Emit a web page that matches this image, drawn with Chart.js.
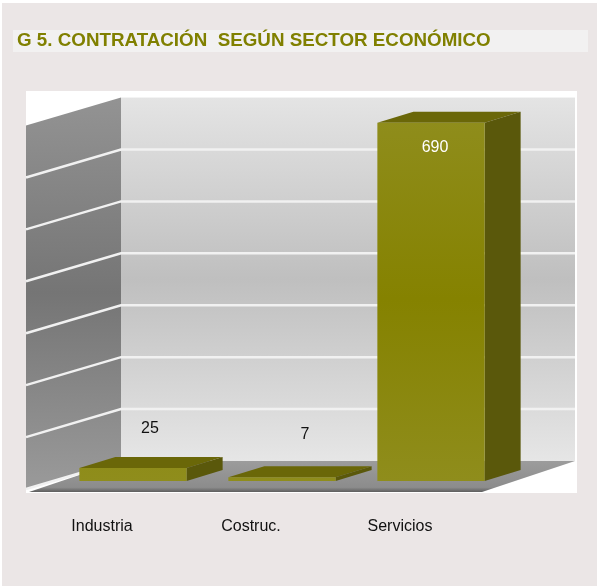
<!DOCTYPE html>
<html>
<head>
<meta charset="utf-8">
<style>html,body{margin:0;padding:0;background:#ebe6e6;overflow:hidden}canvas{display:block;filter:blur(0.45px)}</style>
<script src="https://cdn.jsdelivr.net/npm/chart.js@4"></script>
</head>
<body>
<canvas id="c" width="597" height="586"></canvas>
<script>
const categories = ["Industria", "Costruc.", "Servicios"];
const contratos = [25, 7, 690];
const yTicks = { min: 0, max: 700, step: 100 };
const titleText = "G 5. CONTRATACIÓN  SEGÚN SECTOR ECONÓMICO";
const olive = "#808000";

const DEPTH = { x: 36, y: 11 };            // bar depth
const WALL = { x: 62.5, y: 20, side: 95, drop: 28, right: 575 };
const LABEL_SHIFT = [[17, -39], [23, -43], [4, 25]];

function vGrad(ctx, y0, y1, stops) {
  const g = ctx.createLinearGradient(0, y0, 0, y1);
  stops.forEach(s => g.addColorStop(s[0], s[1]));
  return g;
}
function poly(ctx, pts, fill) {
  ctx.beginPath();
  pts.forEach((p, i) => i ? ctx.lineTo(p[0], p[1]) : ctx.moveTo(p[0], p[1]));
  ctx.closePath();
  ctx.fillStyle = fill;
  ctx.fill();
}

const scene = {
  id: "scene",
  beforeDraw(chart) {
    const ctx = chart.ctx;
    ctx.save();
    ctx.fillStyle = "#ffffff"; ctx.fillRect(0, 0, 597, 586);
    ctx.fillStyle = "#ebe6e6"; ctx.fillRect(2, 3, 595, 583);
    ctx.fillStyle = "#f2f1f1"; ctx.fillRect(13, 30, 575, 22);
    ctx.fillStyle = "#ffffff"; ctx.fillRect(26, 91, 551, 402);
    ctx.restore();
  },
  beforeDatasetsDraw(chart) {
    const ctx = chart.ctx, a = chart.chartArea, y = chart.scales.y;
    const bl = a.left + WALL.x, top = y.getPixelForValue(yTicks.max) - WALL.y, base = y.getPixelForValue(0) - WALL.y;
    ctx.save();
    // back wall
    ctx.fillStyle = vGrad(ctx, top, base, [[0, "#e4e4e4"], [0.5, "#bfbfbf"], [1, "#e6e6e6"]]);
    ctx.fillRect(bl, top, WALL.right - bl, base - top);
    // side wall
    poly(ctx, [[bl, top], [bl, base], [bl - WALL.side, base + WALL.drop], [bl - WALL.side, top + WALL.drop]],
      vGrad(ctx, top, base + WALL.drop, [[0, "#939393"], [0.5, "#757575"], [1, "#9a9a9a"]]));
    // floor
    poly(ctx, [[bl, base], [WALL.right, base], [WALL.right - 93, base + 31], [bl - WALL.side + 3, base + 31]],
      vGrad(ctx, base, base + 31, [[0, "#9c9c9c"], [0.85, "#8c8c8c"], [1, "#5e5e5e"]]));
    // grid lines
    ctx.strokeStyle = "#f1f1f1"; ctx.lineWidth = 2.5;
    y.ticks.forEach(t => {
      const py = y.getPixelForValue(t.value) - WALL.y;
      if (t.value === yTicks.max) return;
      ctx.beginPath();
      if (t.value === 0) {
        ctx.moveTo(bl, py);
      } else {
        ctx.moveTo(WALL.right, py); ctx.lineTo(bl, py);
      }
      ctx.lineTo(bl - WALL.side, py + WALL.drop);
      ctx.stroke();
    });
    // bar top and side faces
    chart.getDatasetMeta(0).data.forEach(b => {
      const l = b.x - b.width / 2, r = b.x + b.width / 2;
      poly(ctx, [[l, b.y], [l + DEPTH.x, b.y - DEPTH.y], [r + DEPTH.x, b.y - DEPTH.y], [r, b.y]], "#6a6708");
      poly(ctx, [[r, b.y], [r + DEPTH.x, b.y - DEPTH.y], [r + DEPTH.x, b.base - DEPTH.y], [r, b.base]], "#5a580b");
    });
    ctx.restore();
  },
  afterDatasetsDraw(chart) {
    const ctx = chart.ctx;
    ctx.save();
    ctx.font = "16px 'Liberation Sans'";
    ctx.textAlign = "center";
    ctx.textBaseline = "middle";
    chart.getDatasetMeta(0).data.forEach((b, i) => {
      ctx.fillStyle = contratos[i] > 100 ? "#ffffff" : "#111111";
      ctx.fillText(String(contratos[i]), b.x + LABEL_SHIFT[i][0], b.y + LABEL_SHIFT[i][1]);
    });
    ctx.restore();
  }
};

new Chart(document.getElementById("c"), {
  type: "bar",
  data: {
    labels: categories,
    datasets: [{
      data: contratos,
      barPercentage: 0.72,
      categoryPercentage: 1,
      borderWidth: 0,
      backgroundColor(c) {
        const a = c.chart.chartArea;
        if (!a) return olive;
        return vGrad(c.chart.ctx, a.top, a.bottom, [[0, "#8f8d1c"], [0.5, "#858200"], [1, "#8f8d1c"]]);
      }
    }]
  },
  options: {
    responsive: false,
    animation: false,
    layout: { padding: { left: 17, right: 91.5, top: 30, bottom: 0 } },
    plugins: {
      legend: { display: false },
      tooltip: { enabled: false },
      title: {
        display: true, text: titleText, align: "start", color: olive,
        font: { family: "'Liberation Sans'", size: 18.8, weight: "bold" },
        padding: { top: 0, bottom: 65 }
      }
    },
    scales: {
      x: {
        grid: { display: false }, border: { display: false },
        afterFit(s) { s.height = 105; },
        ticks: {
          color: "#111111", padding: 28, labelOffset: -31, maxRotation: 0,
          font: { family: "'Liberation Sans'", size: 16 }
        }
      },
      y: {
        min: yTicks.min, max: yTicks.max,
        grid: { display: false }, border: { display: false },
        afterFit(s) { s.width = 41.5; },
        ticks: { display: false, stepSize: yTicks.step }
      }
    }
  },
  plugins: [scene]
});
</script>
</body>
</html>
